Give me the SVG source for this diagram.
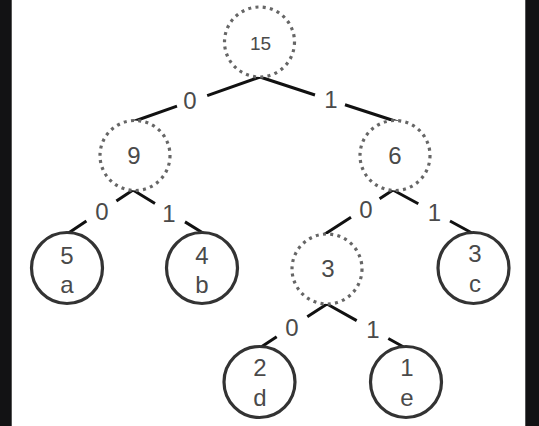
<svg xmlns="http://www.w3.org/2000/svg" width="539" height="426" viewBox="0 0 539 426">
  <style>
    .frame { fill: #121214; }
    .edge { stroke: #111; stroke-width: 3; fill: none; stroke-linecap: butt; }
    .dot { fill: #fff; stroke: #666; stroke-width: 3.2; stroke-dasharray: 3 4.3; }
    .leaf { fill: #fff; stroke: #333; stroke-width: 3.2; }
    text { font-family: "Liberation Sans", Arial, sans-serif; fill: #4a4a4a; text-anchor: middle; }
    .lbl { font-size: 24px; }
    .num { font-size: 24px; }
    .small { font-size: 19px; }
  </style>
  <rect x="0" y="0" width="539" height="426" fill="#fff"/>
  <rect class="frame" x="0" y="0" width="11" height="426"/>
  <rect class="frame" x="526" y="0" width="13" height="426"/>
  <rect x="11" y="0" width="1" height="426" fill="#555"/>
  <rect x="525" y="0" width="1" height="426" fill="#555"/>

  <g id="connectors">
    <path class="edge" d="M260,77 L207.2,95.6 M177,106.2 L132,122"/>
    <path class="edge" d="M260,77 L315,95 M345,104.8 L398,122"/>
    <path class="edge" d="M133,190 L116.4,201.1 M86.4,221.1 L67,234"/>
    <path class="edge" d="M133,190 L155,203.5 M185,221.9 L203,233"/>
    <path class="edge" d="M393,190 L379.6,198.7 M351,217.2 L325,234"/>
    <path class="edge" d="M393,190 L418.3,203.8 M450,221 L472,233"/>
    <path class="edge" d="M327,304 L307.3,316.8 M276.7,336.8 L260,347.7"/>
    <path class="edge" d="M327,304 L356.7,320.6 M388.3,338.5 L405,347.7"/>
    <text class="lbl" x="190" y="108.8">0</text>
    <text class="lbl" x="331" y="108.3">1</text>
    <text class="lbl" x="102" y="220.3">0</text>
    <text class="lbl" x="169" y="221.6">1</text>
    <text class="lbl" x="366" y="217.6">0</text>
    <text class="lbl" x="434.5" y="221">1</text>
    <text class="lbl" x="292" y="336.3">0</text>
    <text class="lbl" x="373" y="337.6">1</text>
  </g>

  <g id="node-15">
    <circle class="dot" cx="259.5" cy="42" r="35"/>
    <text class="small" x="260.5" y="49.5">15</text>
  </g>
  <g id="node-9">
    <circle class="dot" cx="135" cy="155.5" r="35"/>
    <text class="num" x="134" y="163.8">9</text>
  </g>
  <g id="node-6">
    <circle class="dot" cx="395" cy="155.5" r="35"/>
    <text class="num" x="395" y="164.3">6</text>
  </g>
  <g id="node-a">
    <circle class="leaf" cx="67" cy="268" r="35.5"/>
    <text class="num" x="67" y="263.6">5</text>
    <text class="num" x="67" y="293.3">a</text>
  </g>
  <g id="node-b">
    <circle class="leaf" cx="202" cy="268" r="35.5"/>
    <text class="num" x="202" y="263.6">4</text>
    <text class="num" x="202" y="293.3">b</text>
  </g>
  <g id="node-3">
    <circle class="dot" cx="327" cy="269" r="35"/>
    <text class="num" x="328" y="277">3</text>
  </g>
  <g id="node-c">
    <circle class="leaf" cx="473.5" cy="268" r="35.5"/>
    <text class="num" x="475" y="262">3</text>
    <text class="num" x="475" y="291.5">c</text>
  </g>
  <g id="node-d">
    <circle class="leaf" cx="259.5" cy="382" r="35.5"/>
    <text class="num" x="260" y="376.3">2</text>
    <text class="num" x="260" y="406">d</text>
  </g>
  <g id="node-e">
    <circle class="leaf" cx="406" cy="382" r="35.5"/>
    <text class="num" x="407" y="376.3">1</text>
    <text class="num" x="407" y="406">e</text>
  </g>
</svg>
